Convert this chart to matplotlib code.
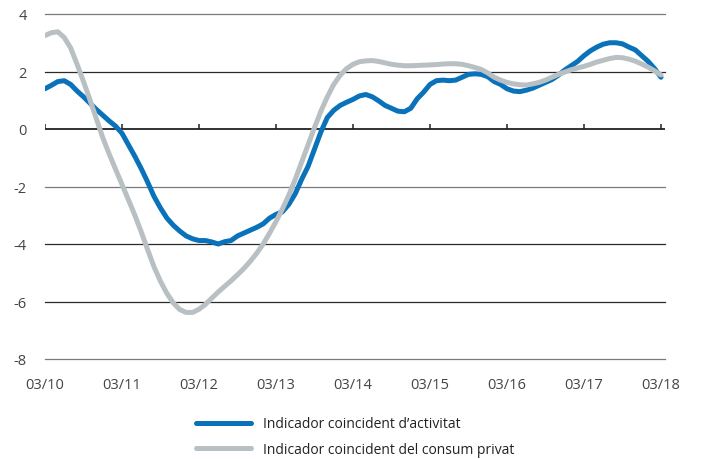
import matplotlib.pyplot as plt
from matplotlib.lines import Line2D

plt.rcParams['font.family'] = ['Open Sans', 'DejaVu Sans']
plt.rcParams['axes.unicode_minus'] = False

# etiquetes de l'eix x (cada 12 mesos)
tick_labels = ['03/10', '03/11', '03/12', '03/13', '03/14', '03/15', '03/16', '03/17', '03/18']
y_ticks = [4, 2, 0, -2, -4, -6, -8]

# sèries mensuals, de 03/10 a 03/18
activitat = [
    1.40, 1.52, 1.65, 1.68, 1.55, 1.32, 1.12, 0.90, 0.68, 0.48, 0.28, 0.10,
    -0.15, -0.55, -0.95, -1.38, -1.85, -2.35, -2.75, -3.10, -3.35, -3.55, -3.72, -3.82,
    -3.88, -3.88, -3.93, -4.00, -3.92, -3.88, -3.72, -3.62, -3.52, -3.42, -3.30, -3.10,
    -2.97, -2.88, -2.62, -2.25, -1.75, -1.30, -0.70, -0.10, 0.40, 0.65, 0.82, 0.93,
    1.03, 1.15, 1.20, 1.12, 0.98, 0.82, 0.72, 0.62, 0.60, 0.72, 1.05, 1.28,
    1.55, 1.68, 1.70, 1.68, 1.70, 1.80, 1.90, 1.92, 1.90, 1.82, 1.65, 1.55,
    1.40, 1.32, 1.30, 1.35, 1.42, 1.52, 1.62, 1.72, 1.87, 2.05, 2.20, 2.35,
    2.55, 2.72, 2.85, 2.95, 3.00, 3.00, 2.96, 2.85, 2.75, 2.55, 2.35, 2.10,
    1.80,
]
consum = [
    3.25, 3.35, 3.38, 3.18, 2.82, 2.25, 1.65, 1.02, 0.36, -0.30, -0.87, -1.40,
    -1.93, -2.46, -3.00, -3.58, -4.20, -4.80, -5.30, -5.72, -6.05, -6.28, -6.38, -6.38,
    -6.27, -6.10, -5.88, -5.67, -5.47, -5.28, -5.07, -4.85, -4.60, -4.32, -4.00, -3.62,
    -3.22, -2.78, -2.30, -1.75, -1.15, -0.55, 0.05, 0.62, 1.12, 1.55, 1.87, 2.10,
    2.25, 2.34, 2.37, 2.38, 2.35, 2.30, 2.25, 2.22, 2.20, 2.20, 2.21, 2.22,
    2.23, 2.24, 2.26, 2.27, 2.27, 2.25, 2.20, 2.14, 2.07, 1.95, 1.80, 1.70,
    1.62, 1.57, 1.54, 1.53, 1.57, 1.62, 1.70, 1.80, 1.90, 1.98, 2.06, 2.12,
    2.18, 2.25, 2.33, 2.39, 2.45, 2.49, 2.48, 2.43, 2.36, 2.26, 2.15, 2.02,
    1.88,
]
noms = ['Indicador coincident d\u2019activitat', 'Indicador coincident del consum privat']

blau = '#0A72BA'
gris = '#B9C0C3'

mesos = list(range(len(activitat)))
ticks = [12 * i for i in range(len(tick_labels))]

fig = plt.figure(figsize=(7.02, 4.60), dpi=100)
ax = fig.add_axes([45 / 702, 1 - 360 / 460, 620 / 702, 345 / 460])

# línies horitzontals
for y in y_ticks:
    if y == 0:
        continue
    col = '#7a7a7a' if y in (4, -2, -8) else '#2a2a2a'
    ax.axhline(y, color=col, lw=0.9, zorder=1, clip_on=False)

ax.plot(mesos, activitat, color=blau, lw=3.6, solid_capstyle='round', zorder=3)
ax.plot(mesos, consum, color=gris, lw=3.6, solid_capstyle='round', zorder=4)

# eix del zero amb marques
ax.axhline(0, color='#222222', lw=1.3, zorder=2)
ax.vlines(ticks, 0, 0.18, color='#222222', lw=1.1, zorder=2)

ax.set_xlim(0, 96 * 620 / 616)
ax.set_ylim(-8, 4)
ax.set_xticks(ticks)
ax.set_xticklabels(tick_labels)
ax.set_yticks(y_ticks)
ax.tick_params(axis='both', length=0, labelsize=10.5, colors='#444444')
ax.tick_params(axis='x', pad=13)
ax.tick_params(axis='y', pad=13)
for s in ax.spines.values():
    s.set_visible(False)

handles = [Line2D([], [], color=blau, lw=3.6, solid_capstyle='round'),
           Line2D([], [], color=gris, lw=3.6, solid_capstyle='round')]
fig.legend(handles, noms, loc='upper left', bbox_to_anchor=(183 / 702, 1 - 405 / 460),
           frameon=False, fontsize=10, handlelength=4.0, handletextpad=0.85,
           labelspacing=0.75, labelcolor='#222222')

fig.savefig('out.png', dpi=100)
